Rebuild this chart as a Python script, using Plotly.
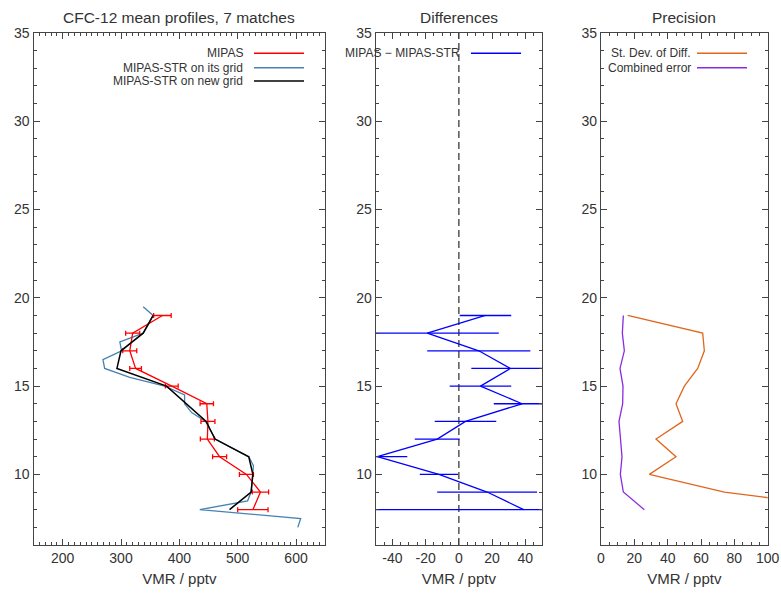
import plotly.graph_objects as go

# ---------------- data ----------------
alt = [19, 18, 17, 16, 15, 14, 13, 12, 11, 10, 9, 8]

mipas = [371, 320, 315, 325, 387, 447, 449, 448, 469, 515, 539, 526]
mipas_err = [15, 12, 12, 10, 11, 11.5, 12, 12, 12, 12, 14, 26]

str_new = [355, 338, 300, 293, 378, 413, 446, 461, 519, 526, 523, 486]

str_alt = [19.5, 19.0, 18.5, 18.0, 17.5, 17.0, 16.5, 16.0, 15.5, 15.0, 14.5, 14.0,
           13.5, 13.0, 12.5, 12.0, 11.5, 11.0, 10.5, 10.0, 9.5, 9.0, 8.5, 8.0, 7.5, 7.0]
str_grid = [338, 355, 347, 338, 298, 301, 269, 272, 315, 375, 409, 409,
            421, 445, 453, 462, 490, 519, 527, 526, 525, 523, 517, 435, 608, 603]

diff = [16, -19, 12, 31, 13, 38, 4, -13, -49, -12, 17, 39]
diff_err = [15.5, 43, 31, 23.5, 18.5, 17, 18.5, 13.5, 18, 11.5, 30, 95]

std_diff = [16, 61, 62, 58, 50, 45, 49, 33, 45, 29, 74, 155]
comb_err = [13.4, 12.8, 14, 11.4, 13.2, 13, 10.8, 11.8, 12.6, 11.6, 13.4, 26]

titles = ["CFC-12 mean profiles, 7 matches", "Differences", "Precision"]
xlabel = "VMR / pptv"
x1_ticks = [200, 300, 400, 500, 600]
x2_ticks = [-40, -20, 0, 20, 40]
x3_ticks = [0, 20, 40, 60, 80, 100]
y_ticks = [10, 15, 20, 25, 30, 35]

# ---------------- figure ----------------
FONT = "Liberation Sans, Arial, Helvetica, sans-serif"
TXT = "#333333"
AX = "#444444"

fig = go.Figure()

fig.add_trace(go.Scatter(x=str_grid, y=str_alt, mode="lines",
                         line=dict(color="#4682B4", width=1.3),
                         xaxis="x", yaxis="y", showlegend=False))
fig.add_trace(go.Scatter(x=mipas, y=alt, mode="lines",
                         line=dict(color="#ff0000", width=1.3),
                         error_x=dict(type="data", array=mipas_err, color="#ff0000",
                                      thickness=1.3, width=2.5),
                         xaxis="x", yaxis="y", showlegend=False))
fig.add_trace(go.Scatter(x=str_new, y=alt, mode="lines",
                         line=dict(color="#000000", width=1.5),
                         xaxis="x", yaxis="y", showlegend=False))

fig.add_trace(go.Scatter(x=diff, y=alt, mode="lines",
                         line=dict(color="#0000ff", width=1.3),
                         error_x=dict(type="data", array=diff_err, color="#0000ff",
                                      thickness=1.3, width=0),
                         xaxis="x2", yaxis="y2", showlegend=False))

fig.add_trace(go.Scatter(x=std_diff, y=alt, mode="lines",
                         line=dict(color="#e0661e", width=1.3),
                         xaxis="x3", yaxis="y3", showlegend=False))
fig.add_trace(go.Scatter(x=comb_err, y=alt, mode="lines",
                         line=dict(color="#8a2be2", width=1.3),
                         xaxis="x3", yaxis="y3", showlegend=False))

W, H = 781, 597
ML, MR, MT, MB = 33, 13, 33, 52
PW = W - ML - MR
PH = H - MT - MB


def px(x):
    return (x - ML) / PW


def py(y):
    return (H - MB - y) / PH


def axis_common():
    return dict(showline=True, linecolor=AX, linewidth=1.3, mirror="ticks",
                ticks="inside", ticklen=6, tickwidth=1.1, tickcolor=AX,
                showgrid=False, zeroline=False, automargin=False,
                tickfont=dict(size=14, color=TXT, family=FONT),
                minor=dict(ticks="inside", ticklen=3, tickwidth=1, tickcolor=AX,
                           showgrid=False))


doms = [[px(33.5), px(325.2)], [px(375.7), px(542)], [px(601), min(1.0, px(767.7))]]
xr = [[150, 650], [-50, 50], [0, 100]]
xt = [x1_ticks, x2_ticks, x3_ticks]
xminor = [10, 5, 5]

layout = dict(width=W, height=H, margin=dict(l=ML, r=MR, t=MT, b=MB),
              paper_bgcolor="white", plot_bgcolor="white",
              font=dict(family=FONT, color=TXT), showlegend=False)

for i in range(3):
    s = "" if i == 0 else str(i + 1)
    xa = axis_common()
    xa.update(domain=doms[i], range=xr[i], tickmode="array",
              tickvals=xt[i], ticktext=[str(v) for v in xt[i]],
              anchor="y" + s,
              title=dict(text=xlabel, font=dict(size=15, color=TXT, family=FONT), standoff=8))
    xa["minor"].update(dtick=xminor[i], tick0=0)
    ya = axis_common()
    ya.update(domain=[0, 1], range=[6, 35], tickmode="array",
              tickvals=y_ticks, ticktext=[str(v) for v in y_ticks], anchor="x" + s)
    ya["minor"].update(dtick=1, tick0=0)
    layout["xaxis" + s] = xa
    layout["yaxis" + s] = ya

fig.update_layout(**layout)

# panel titles
for i, t in enumerate(titles):
    fig.add_annotation(text=t, xref="paper", yref="paper",
                       x=(doms[i][0] + doms[i][1]) / 2, y=py(17),
                       xanchor="center", yanchor="middle", showarrow=False,
                       font=dict(size=15.5, color=TXT, family=FONT))

# zero line in differences panel
fig.add_shape(type="line", xref="x2", yref="y2 domain", x0=0, x1=0, y0=0, y1=1,
              line=dict(color="#555555", width=1.5, dash="7px,4px"), layer="below")

# custom legends (text right of which sits the line sample)
legends = [
    ("MIPAS", "#ff0000", 245, 254, 304, 53.3),
    ("MIPAS-STR on its grid", "#4682B4", 245, 254, 304, 67.7),
    ("MIPAS-STR on new grid", "#000000", 245, 254, 304, 81),
    ("MIPAS \u2212 MIPAS-STR", "#0000ff", 462, 471, 521, 53.3),
    ("St. Dev. of Diff.", "#e0661e", 693, 697, 747, 53.3),
    ("Combined error", "#8a2be2", 693, 697, 747, 67.7),
]
for txt, col, tx, lx0, lx1, ly in legends:
    fig.add_annotation(text=txt, xref="paper", yref="paper", x=px(tx), y=py(ly),
                       xanchor="right", yanchor="middle", showarrow=False,
                       font=dict(size=12, color=TXT, family=FONT))
    fig.add_shape(type="line", xref="paper", yref="paper",
                  x0=px(lx0), x1=px(lx1), y0=py(ly), y1=py(ly),
                  line=dict(color=col, width=1.5))

fig.write_html("out.html")
